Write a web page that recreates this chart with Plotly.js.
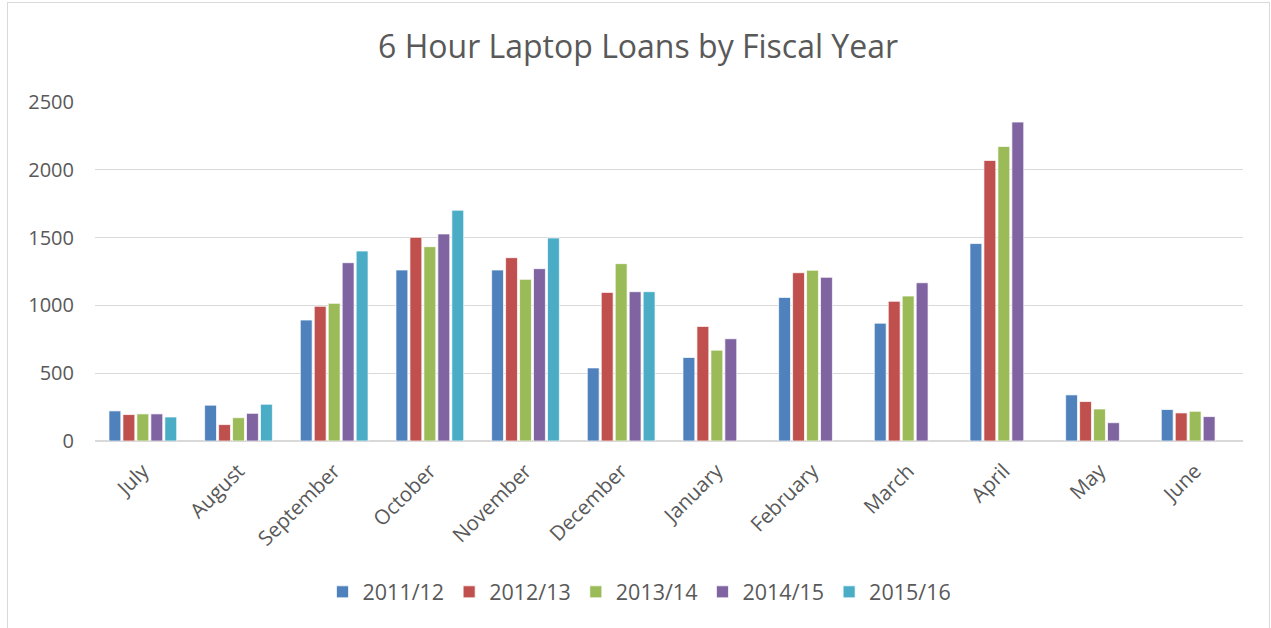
<!DOCTYPE html>
<html>
<head>
<meta charset="utf-8">
<script src="https://cdn.plot.ly/plotly-3.0.1.min.js"></script>
<style>
html,body{margin:0;padding:0;background:#fff;}
#wrap{position:absolute;left:7px;top:2px;width:1261px;height:640px;border:1px solid #d9d9d9;}
#chart{position:absolute;left:0;top:0;width:1271px;height:628px;}
</style>
</head>
<body>
<div id="wrap"></div>
<div id="chart"></div>
<script>
const months = ["July","August","September","October","November","December","January","February","March","April","May","June"];
const seriesNames = ["2011/12","2012/13","2013/14","2014/15","2015/16"];
const fy2011_12 = [222, 264, 892, 1261, 1261, 539, 616, 1059, 869, 1456, 340, 232];
const fy2012_13 = [195, 121, 993, 1502, 1352, 1096, 845, 1241, 1030, 2069, 291, 207];
const fy2013_14 = [200, 172, 1015, 1433, 1192, 1308, 670, 1259, 1069, 2172, 236, 219];
const fy2014_15 = [200, 204, 1315, 1527, 1271, 1101, 754, 1207, 1167, 2352, 135, 180];
const fy2015_16 = [177, 271, 1401, 1702, 1497, 1101, null, null, null, null, null, null];
const seriesValues = [fy2011_12, fy2012_13, fy2013_14, fy2014_15, fy2015_16];
const colors = ["#4F81BD","#C0504D","#9BBB59","#8064A2","#4BACC6"];
const yTicks = [0, 500, 1000, 1500, 2000, 2500];

const traces = seriesNames.map((n, i) => ({
  type: "bar",
  name: n,
  x: months,
  y: seriesValues[i],
  marker: {color: colors[i], line: {color: "rgba(255,255,255,0.7)", width: 1}},
  hoverinfo: "x+y+name"
}));

const font = "'Open Sans', sans-serif";
const layout = {
  width: 1271, height: 628,
  paper_bgcolor: "rgba(0,0,0,0)", plot_bgcolor: "rgba(0,0,0,0)",
  margin: {l: 95, r: 28, t: 102, b: 187},
  font: {family: font, color: "#595959"},
  title: {text: "6 Hour Laptop Loans by Fiscal Year", font: {family: font, size: 32, color: "#595959"},
          x: 0.502, xanchor: "center", y: 0.925, yanchor: "middle"},
  barmode: "group",
  bargap: 0.27,
  bargroupgap: 0.15,
  xaxis: {
    tickangle: -45, tickfont: {size: 20.5, color: "#595959"},
    showline: false, ticks: "", showgrid: false, automargin: false, ticklabelstandoff: 13
  },
  yaxis: {
    range: [0, 2500], tickvals: yTicks, ticktext: yTicks.map(String),
    tickfont: {size: 20, color: "#595959"},
    gridcolor: "#d9d9d9", gridwidth: 1.3, zeroline: true, zerolinecolor: "#d9d9d9", zerolinewidth: 1.5,
    showline: false, ticks: "", ticklen: 0, automargin: false, ticklabelstandoff: 20
  },
  showlegend: true,
  legend: {orientation: "h", x: 0.4743, xanchor: "center", y: -0.445, yanchor: "middle",
           font: {size: 21.5, color: "#595959"}, traceorder: "normal", itemwidth: 30},
  hovermode: "closest"
};
Plotly.newPlot("chart", traces, layout, {displayModeBar: false, staticPlot: false});
</script>
</body>
</html>
